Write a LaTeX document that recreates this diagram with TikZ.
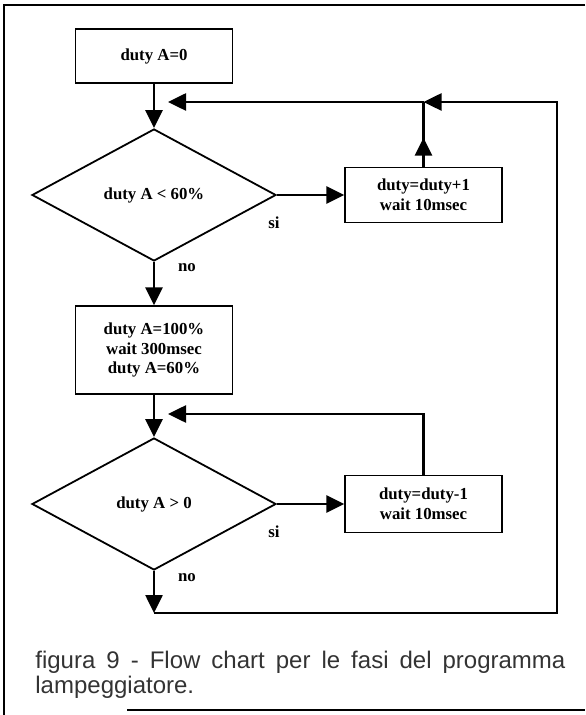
\documentclass[tikz,border=0pt]{standalone}
\usepackage{fontspec}
\setmainfont{Liberation Serif}
\newfontfamily\capfont{Liberation Sans}
\usetikzlibrary{positioning, arrows.meta, shapes.geometric, decorations.markings}
\tikzstyle{block}=[draw,line width=.7pt,fill=white,rectangle,minimum width=78.5pt,align=center,inner sep=0pt]
\tikzstyle{test}=[draw,line width=.9pt,diamond,minimum width=122pt,minimum height=66pt,inner sep=0pt]
\tikzstyle{every node}=[font=\bfseries\fontsize{8.4}{9.8}\selectfont]
\tikzstyle{line}=[line width=1.3pt]
\tikzstyle{arr}=[line, -{Triangle[length=9pt,width=8.5pt]}]
\tikzstyle{midarr}=[line, postaction={decorate},
  decoration={markings, mark=at position .45 with {\arrow{Triangle[length=9pt,width=8.5pt]}}}]

\begin{document}
\begin{tikzpicture}[x=.5pt, y=-.5pt]
            \useasboundingbox (0,0) rectangle (585,715);
            % cornice
            \draw[line width=1pt] (585,5) -- (4,5) -- (4,715);
            \draw[line width=1pt] (127,710) -- (585,710);
            % blocchi
            \node[block, minimum height=27pt] (init) at (154,56) {duty A=0};
            \node[test, below of=init, node distance=69.5pt] (lt) {duty A < 60\%};
            \node[block, right of=lt, node distance=134.75pt, minimum height=27.5pt] (inc) {duty=duty+1\\wait 10msec};
            \node[block, below of=lt, node distance=77.5pt, minimum height=44pt] (set) {duty A=100\%\\wait 300msec\\duty A=60\%};
            \node[test, below of=set, node distance=77pt] (gt) {duty A > 0};
            \node[block, right of=gt, node distance=134.75pt, minimum height=28.5pt] (dec) {duty=duty-1\\wait 10msec};
            \node (si1) at ([shift={(-1.5pt,-14pt)}]lt.east) {si};
            \node (no1) at ([shift={(16.5pt,-3pt)}]lt.south) {no};
            \node (si2) at ([shift={(-1.5pt,-14pt)}]gt.east) {si};
            \node (no2) at ([shift={(16.5pt,-3.5pt)}]gt.south) {no};
            % punti del ritorno
            \coordinate (r0) at (557,613);
            \coordinate (r1) at (557,102);
            \coordinate (b1) at (gt |- r0);
            \coordinate (j1) at (inc |- r1);
            \coordinate (t1) at (168,102);
            \coordinate (t2) at (168,414);
            \draw[arr] (init) -- (lt);
            \draw[arr] (lt) -- (inc);
            \draw[arr] (lt) -- (set);
            \draw[arr] (set) -- (gt);
            \draw[arr] (gt) -- (dec);
            \draw[arr] (gt) -- (b1);
            \draw[midarr] (inc) -- (j1);
            \draw[arr] (b1) -- (r0) -- (r1) -- (j1);
            \draw[arr] (j1) -- (t1);
            \draw[arr] (dec) |- (t2);
            \node[font=\capfont\fontsize{12}{12.5}\selectfont, text=black!80, text width=265pt,
                  align=justify, anchor=base west, inner sep=0pt] (cap) at (35,668)
                  {figura 9 - Flow chart per le fasi del programma \mbox{lampeggiatore.}};
        \end{tikzpicture}
\end{document}
